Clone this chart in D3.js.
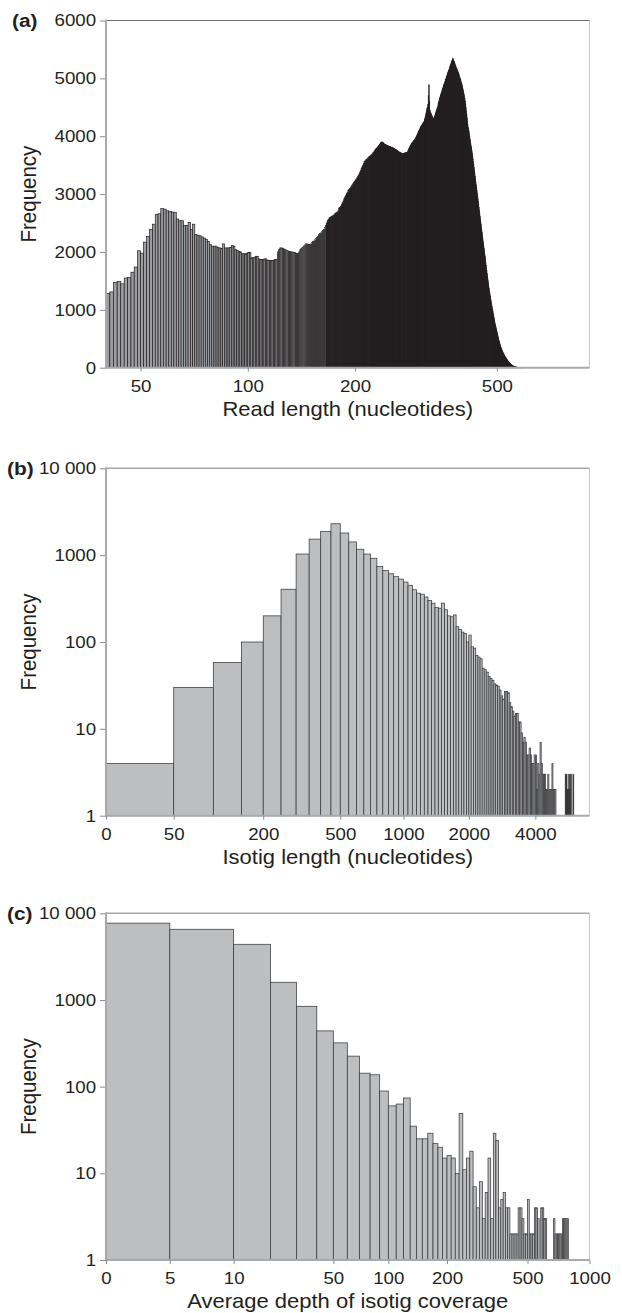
<!DOCTYPE html>
<html>
<head>
<meta charset="utf-8">
<title>Read length, isotig length and coverage histograms</title>
<script src="https://cdn.jsdelivr.net/npm/d3@7"></script>
<style>
  body { margin: 0; background: #fff; }
  svg { display: block; font-family: "Liberation Sans", Arial, Helvetica, sans-serif; }
</style>
</head>
<body>
<div id="chart"></div>
<script>
// ---- (a) read length, one bar per nucleotide, first bar = 40 nt
var readMin = 40;
var readFreq = [
  1280, 1310, 1470, 1490, 1450, 1550, 1560, 1650, 1740, 2020,
  1980, 2170, 2270, 2390, 2480, 2650, 2660, 2750, 2740, 2710,
  2700, 2690, 2680, 2570, 2540, 2540, 2460, 2460, 2510, 2390,
  2480, 2300, 2290, 2280, 2260, 2240, 2215, 2180, 2130, 2100,
  2100, 2100, 2080, 2070, 2060, 2140, 2070, 2070, 2070, 2080,
  2110, 2100, 2040, 2030, 2010, 2000, 1970, 1970, 1970, 1980,
  1990, 1990, 1900, 1900, 1910, 1925, 1925, 1880, 1870, 1870,
  1870, 1880, 1880, 1860, 1855, 1855, 1850, 1855, 1860, 1870,
  1870, 2000, 2040, 2070, 2070, 2060, 2050, 2040, 2030, 2020,
  2010, 2010, 2000, 2000, 1990, 1990, 1980, 1975, 1970, 2000,
  2040, 2060, 2080, 2100, 2120, 2140, 2140, 2135, 2130, 2130,
  2140, 2160, 2180, 2190, 2210, 2230, 2250, 2270, 2300, 2320,
  2330, 2350, 2370, 2390, 2420, 2460, 2500, 2540, 2560, 2590,
  2600, 2610, 2620, 2625, 2640, 2660, 2670, 2680, 2690, 2710,
  2760, 2770, 2790, 2820, 2850, 2880, 2920, 2950, 2980, 3010,
  3030, 3060, 3080, 3100, 3120, 3140, 3160, 3180, 3200, 3220,
  3240, 3260, 3280, 3300, 3320, 3350, 3380, 3410, 3440, 3470,
  3500, 3530, 3560, 3575, 3590, 3600, 3610, 3625, 3640, 3650,
  3660, 3670, 3680, 3695, 3710, 3725, 3740, 3760, 3775, 3790,
  3800, 3815, 3830, 3840, 3860, 3875, 3890, 3900, 3900, 3890,
  3880, 3870, 3860, 3855, 3850, 3845, 3840, 3835, 3830, 3825,
  3820, 3815, 3810, 3810, 3810, 3800, 3795, 3790, 3780, 3775,
  3770, 3760, 3755, 3745, 3740, 3730, 3725, 3720, 3715, 3710,
  3705, 3700, 3700, 3700, 3705, 3710, 3715, 3715, 3720, 3720,
  3725, 3745, 3765, 3790, 3810, 3830, 3845, 3860, 3875, 3890,
  3900, 3910, 3925, 3935, 3945, 3960, 3980, 4000, 4020, 4040,
  4060, 4080, 4100, 4120, 4140, 4160, 4175, 4190, 4200, 4215,
  4230, 4240, 4255, 4290, 4320, 4360, 4400, 4440, 4480, 4500,
  4550, 4700, 4890, 4600, 4450, 4420, 4400, 4380, 4360, 4340,
  4320, 4310, 4300, 4320, 4340, 4370, 4400, 4420, 4450, 4470,
  4490, 4520, 4560, 4590, 4620, 4650, 4680, 4710, 4730, 4750,
  4780, 4800, 4830, 4850, 4880, 4900, 4920, 4940, 4960, 4990,
  5010, 5030, 5055, 5080, 5100, 5120, 5140, 5160, 5185, 5210,
  5230, 5250, 5270, 5290, 5310, 5330, 5350, 5320, 5300, 5290,
  5270, 5250, 5230, 5210, 5190, 5175, 5160, 5140, 5125, 5105,
  5090, 5065, 5040, 5020, 5000, 4980, 4955, 4930, 4910, 4880,
  4850, 4820, 4790, 4750, 4720, 4690, 4650, 4610, 4560, 4500,
  4440, 4380, 4320, 4260, 4200, 4150, 4130, 4090, 4040, 4000,
  3950, 3910, 3870, 3830, 3790, 3750, 3710, 3660, 3610, 3560,
  3510, 3460, 3410, 3360, 3310, 3260, 3210, 3160, 3115, 3065,
  3020, 2970, 2920, 2870, 2820, 2770, 2720, 2670, 2620, 2570,
  2520, 2480, 2430, 2380, 2335, 2290, 2240, 2190, 2150, 2100,
  2060, 2010, 1960, 1920, 1870, 1820, 1770, 1720, 1680, 1630,
  1590, 1540, 1500, 1450, 1405, 1370, 1330, 1300, 1260, 1230,
  1190, 1160, 1120, 1090, 1060, 1030, 1000, 970, 940, 910,
  880, 850, 820, 790, 760, 740, 715, 690, 665, 640,
  620, 595, 570, 550, 525, 500, 480, 460, 440, 420,
  400, 385, 370, 350, 335, 320, 305, 295, 280, 270,
  260, 250, 240, 230, 220, 210, 200, 190, 185, 175,
  165, 160, 150, 140, 135, 125, 120, 115, 105, 100,
  95, 90, 85, 80, 75, 70, 65, 60, 55, 50,
  45, 42, 38, 35, 32, 30, 27, 25, 22, 20,
  18, 16, 15, 14, 12, 11, 10, 9, 8, 7,
  7, 6, 5, 5, 4, 4, 3, 3, 3, 2,
  2, 2, 2, 1, 1, 1, 1, 1, 1, 1
];
var readTicks = [50, 100, 200, 500];
var countTicks = [0, 1000, 2000, 3000, 4000, 5000, 6000];

// ---- (b) isotig length, bins of 50 nt starting at 0
var isoBin = 50;
var isoFreq = [
  4, 30, 58, 100, 200, 405, 1030, 1530, 1870, 2300,
  1800, 1420, 1170, 1030, 920, 740, 665, 610, 565, 530,
  490, 450, 400, 365, 355, 330, 300, 280, 250, 245,
  280, 235, 200, 195, 205, 150, 140, 130, 125, 100,
  120, 88, 85, 70, 67, 64, 50, 48, 45, 40,
  38, 36, 33, 32, 31, 28, 24, 22, 27, 27,
  26, 20, 18, 16, 14, 15, 15, 12, 12, 9,
  7, 8, 7, 5, 5, 6, 5, 4, 4, 5,
  5, 2, 4, 3, 7, 4, 3, 3, 3, 2,
  2, 3, 2, 2, 2, 4, 2, 2, 2, 0,
  0, 0, 0, 0, 0, 0, 0, 0, 0, 3,
  3, 2, 2, 3, 2, 3, 0, 0, 3
];
var isoTicks = [0, 50, 200, 500, 1000, 2000, 4000];

// ---- (c) average depth of coverage, bin edges and counts
var depthEdges = [0, 5, 10, 20, 30, 40, 50, 60, 70, 80, 90, 100,
  110, 120, 130, 140, 150, 160, 170, 180, 190, 200,
  210, 220, 230, 240, 250, 260, 270, 280, 290, 300,
  310, 320, 330, 340, 350, 360, 370, 380, 390, 400,
  410, 420, 430, 440, 450, 460, 470, 480, 490, 500,
  510, 520, 530, 540, 550, 560, 570, 580, 590, 600,
  610, 620, 630, 640, 650, 660, 670, 680, 690, 700,
  710, 720, 730, 740, 750, 760, 770, 780, 790];
var depthFreq = [
  7700, 6540, 4390, 1600, 845, 440, 320, 225, 143, 137,
  89, 60, 63, 74, 35, 25, 25, 29, 22, 20,
  15, 16, 15, 10, 49, 11, 15, 18, 7, 4,
  8, 3, 6, 15, 3, 29, 24, 4, 5, 6,
  4, 4, 2, 2, 2, 2, 4, 4, 3, 2,
  2, 5, 2, 2, 2, 4, 4, 3, 0, 4,
  4, 3, 3, 0, 0, 0, 0, 0, 3, 2,
  2, 2, 2, 2, 2, 3, 3, 3, 3, 3
];
var depthTicks = [0, 5, 10, 50, 100, 200, 500, 1000];

var logTicks = [1, 10, 100, 1000, 10000];

// ---- layout
var W = 622, H = 1313;
var left = 106, right = 589.5;
var dark = "#231f20";
var sx = 1.1; // the printed figure is a little wider than tall

var svg = d3.select("#chart").append("svg")
  .attr("width", W).attr("height", H);

var xa = d3.scaleLog().domain([40, 910]).range([left, right]);
var ya = d3.scaleLinear().domain([0, 6000]).range([367.7, 20.5]);

var xb = d3.scaleSymlog().constant(50).domain([0, 7000]).range([left, right]);
var yb = d3.scaleLog().domain([1, 10000]).range([815.7, 468.3]);

// depth axis: linear up to 10, symlog above
var split = left + 0.264 * (right - left);
var xcLin = d3.scaleLinear().domain([0, 10]).range([left, split]);
var xcLog = d3.scaleSymlog().constant(10).domain([10, 1000]).range([split, right]);
function xc(v) { return v <= 10 ? xcLin(v) : xcLog(v); }
xc.copy = function() { return xc; };
xc.range = function() { return [left, right]; };
xc.domain = function() { return [0, 1000]; };
var yc = d3.scaleLog().domain([1, 10000]).range([1260, 913.3]);

function barFill(w, light) { return w < 0.93 ? dark : light; }

function frame(top, bottom, topColor, topWidth) {
  svg.append("line")
    .attr("x1", right).attr("x2", right).attr("y1", top).attr("y2", bottom)
    .attr("stroke", "#c3c4c6").attr("stroke-width", 1);
  svg.append("line")
    .attr("x1", left).attr("x2", right).attr("y1", top).attr("y2", top)
    .attr("stroke", topColor).attr("stroke-width", topWidth);
}

function yAxis(scale, vals, fmt, top, bottom) {
  var ax = svg.append("g").attr("transform", "translate(" + left + ",0)")
    .call(d3.axisLeft(scale).tickValues(vals).tickFormat(fmt).tickSize(6).tickPadding(3));
  ax.attr("font-family", null).attr("font-size", 17);
  ax.select(".domain").remove();
  ax.selectAll(".tick line").attr("stroke", "#8a8c8e");
  ax.selectAll(".tick text").attr("fill", dark).attr("transform", "scale(" + sx + ",1)");
  svg.append("line")
    .attr("x1", left).attr("x2", left).attr("y1", top - 1).attr("y2", bottom)
    .attr("stroke", "#a7a9ac").attr("stroke-width", 2);
}

function xAxis(scale, vals, bottom, title) {
  svg.append("line")
    .attr("x1", left).attr("x2", right).attr("y1", bottom).attr("y2", bottom)
    .attr("stroke", "#a7a9ac").attr("stroke-width", 2);
  var ax = svg.append("g").attr("transform", "translate(0," + bottom + ")")
    .call(d3.axisBottom(scale).tickValues(vals).tickFormat(d3.format("d")).tickSize(4).tickPadding(8));
  ax.attr("font-family", null).attr("font-size", 17);
  ax.select(".domain").remove();
  ax.selectAll(".tick line").attr("stroke", "#8a8c8e");
  ax.selectAll(".tick text").attr("fill", dark).attr("transform", "scale(" + sx + ",1)");
  svg.append("text")
    .attr("transform", "translate(" + ((left + right) / 2) + "," + (bottom + 48) + ") scale(" + sx + ",1)")
    .attr("text-anchor", "middle").attr("font-size", 20).attr("fill", dark)
    .text(title);
}

function labels(letter, lx, top, bottom) {
  svg.append("text")
    .attr("transform", "translate(" + lx + "," + (top + 6.5) + ") scale(" + sx + ",1)")
    .attr("font-size", 19).attr("font-weight", "bold").attr("fill", dark)
    .text(letter);
  svg.append("text")
    .attr("transform", "translate(36," + ((top + bottom) / 2) + ") scale(" + sx + ",1) rotate(-90)")
    .attr("text-anchor", "middle").attr("font-size", 20.5).attr("fill", dark)
    .text("Frequency");
}

// ---- panel (a)
var readBars = readFreq.map(function(v, i) { return { lo: readMin + i, hi: readMin + i + 1, v: v }; })
  .filter(function(d) { return d.v > 0; });
svg.append("g").selectAll("rect").data(readBars).join("rect")
  .attr("x", function(d) { return xa(d.lo); })
  .attr("width", function(d) { return xa(d.hi) - xa(d.lo); })
  .attr("y", function(d) { return ya(d.v); })
  .attr("height", function(d) { return ya(0) - ya(d.v); })
  .attr("fill", function(d) { return barFill(xa(d.hi) - xa(d.lo), "#9c9ea1"); })
  .attr("stroke", dark).attr("stroke-width", 0.7);
frame(20.5, 367.7, "#6d6e71", 1.2);
yAxis(ya, countTicks, d3.format("d"), 20.5, 367.7);
xAxis(xa, readTicks, 367.7, "Read length (nucleotides)");
labels("(a)", 12, 20.5, 367.7);

// ---- panel (b)
var isoBars = isoFreq.map(function(v, i) { return { lo: i * isoBin, hi: (i + 1) * isoBin, v: v }; })
  .filter(function(d) { return d.v > 0; });
svg.append("g").selectAll("rect").data(isoBars).join("rect")
  .attr("x", function(d) { return xb(d.lo); })
  .attr("width", function(d) { return xb(d.hi) - xb(d.lo); })
  .attr("y", function(d) { return yb(d.v); })
  .attr("height", function(d) { return yb(1) - yb(d.v); })
  .attr("fill", function(d) { return barFill(xb(d.hi) - xb(d.lo), "#bcbec0"); })
  .attr("stroke", "#3a3a3c").attr("stroke-width", 0.75);
var logFmt = function(v) { return v === 10000 ? "10 000" : String(v); };
frame(468.3, 815.7, "#a7a9ac", 1.6);
yAxis(yb, logTicks, logFmt, 468.3, 815.7);
xAxis(xb, isoTicks, 815.7, "Isotig length (nucleotides)");
labels("(b)", 7, 468.3, 815.7);

// ---- panel (c)
var depthBars = depthFreq.map(function(v, i) { return { lo: depthEdges[i], hi: depthEdges[i + 1], v: v }; })
  .filter(function(d) { return d.v > 0; });
svg.append("g").selectAll("rect").data(depthBars).join("rect")
  .attr("x", function(d) { return xc(d.lo); })
  .attr("width", function(d) { return xc(d.hi) - xc(d.lo); })
  .attr("y", function(d) { return yc(d.v); })
  .attr("height", function(d) { return yc(1) - yc(d.v); })
  .attr("fill", function(d) { return barFill(xc(d.hi) - xc(d.lo), "#bcbec0"); })
  .attr("stroke", "#3a3a3c").attr("stroke-width", 0.75);
frame(913.3, 1260, "#a7a9ac", 1.6);
yAxis(yc, logTicks, logFmt, 913.3, 1260);
xAxis(xc, depthTicks, 1260, "Average depth of isotig coverage");
labels("(c)", 7, 913.3, 1260);
</script>
</body>
</html>
